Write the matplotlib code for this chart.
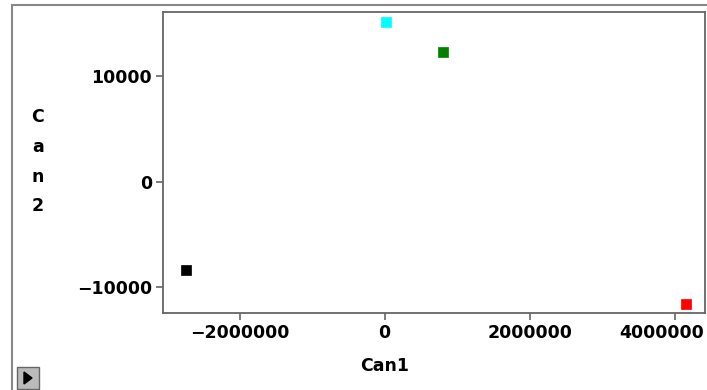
import matplotlib
matplotlib.use('Agg')
import matplotlib.pyplot as plt
from matplotlib.patches import Rectangle, Polygon
from matplotlib.transforms import ScaledTranslation

# canonical scores
can1 = [15000, 804000, -2746000, 4161000]
can2 = [15170, 12290, -8300, -11520]
colors = ['#00ffff', '#008000', '#000000', '#ff0000']

xticks = [-2000000, 0, 2000000, 4000000]
yticks = [-10000, 0, 10000]

W, H = 707, 390
FS = 12.5
fig = plt.figure(figsize=(W / 100, H / 100), dpi=100)
fig.patch.set_facecolor('white')

# outer window frame
fig.patches.append(Rectangle((12 / W, -0.05), 1.0, 1 - 5 / H + 0.05, transform=fig.transFigure,
                             fill=False, edgecolor='#888888', linewidth=1.5))
# small arrow button bottom left
fig.patches.append(Rectangle((17 / W, 1 - 389 / H), 22 / W, 22 / H, transform=fig.transFigure,
                             facecolor='#bbbbbb', edgecolor='#666666', linewidth=1))
fig.patches.append(Polygon([(24 / W, 1 - 384 / H), (24 / W, 1 - 372 / H), (32 / W, 1 - 378 / H)],
                           closed=True, transform=fig.transFigure, facecolor='black', edgecolor='black'))

ax = fig.add_axes([163 / W, 1 - 313 / H, (705 - 163) / W, (313 - 11.5) / H])
for c1, c2, col in zip(can1, can2, colors):
    ax.plot(c1, c2, marker='s', markersize=7.5, color=col, markeredgecolor=col,
            markeredgewidth=0.5, linestyle='none')

ax.set_xlim(-3057000, 4419000)
ax.set_ylim(-12420, 16160)
ax.set_xticks(xticks)
ax.set_yticks(yticks)
ax.set_yticklabels([str(t).replace('-', '\u2212') for t in yticks])
ax.set_xticklabels([str(t).replace('-', '\u2212') for t in xticks])
for s in ax.spines.values():
    s.set_color('#666666')
    s.set_linewidth(1.3)
ax.tick_params(direction='out', length=5, width=1.2, color='#666666',
               labelsize=FS, pad=3)
for lab in ax.get_xticklabels() + ax.get_yticklabels():
    lab.set_fontweight('bold')
# last x label is pushed left so it stays inside the window
last = ax.get_xticklabels()[-1]
last.set_transform(last.get_transform() + ScaledTranslation(-13 / 100, 0, fig.dpi_scale_trans))

fig.text(385 / W, 1 - 366 / H, 'Can1', ha='center', va='center', fontsize=FS, fontweight='bold')
# vertical stacked y label
for ch, yp in zip('Can2', [117, 147, 177, 206]):
    fig.text(38 / W, 1 - yp / H, ch, ha='center', va='center', fontsize=FS, fontweight='bold')

fig.savefig('out.png', dpi=100)
